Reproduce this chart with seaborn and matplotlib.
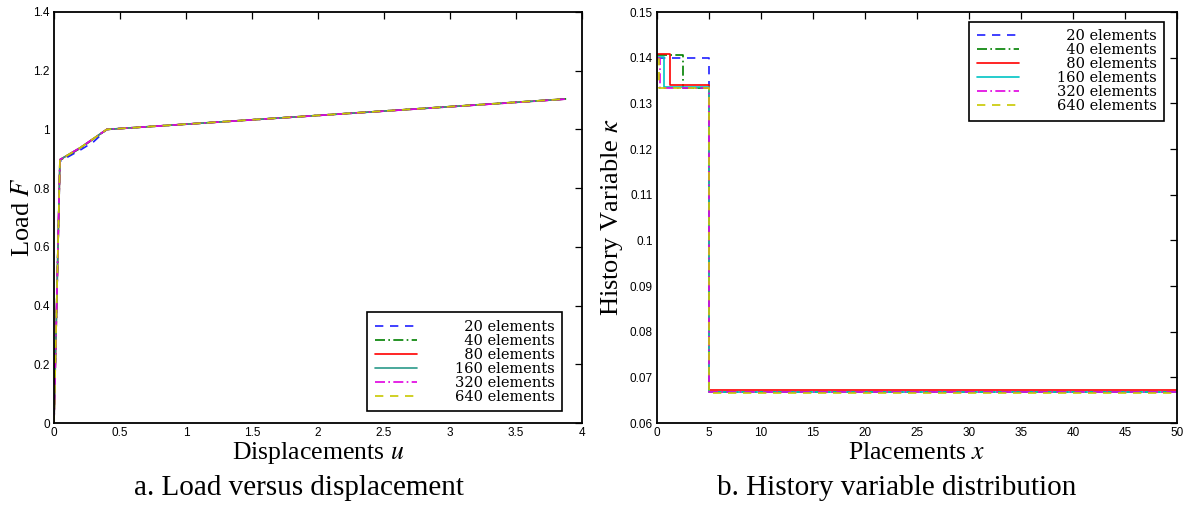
import numpy as np
import pandas as pd
import matplotlib
matplotlib.use("Agg")
import matplotlib.pyplot as plt
from matplotlib.ticker import FuncFormatter
import seaborn as sns

# ---- mesh labels ----
meshes = ["20 elements", "40 elements", "80 elements",
          "160 elements", "320 elements", "640 elements"]

# ---- load versus displacement (per mesh) ----
u_20 = [0.0, 0.045, 0.12, 0.20, 0.30, 0.40, 3.85]
F_20 = [0.0, 0.891, 0.910, 0.930, 0.958, 1.000, 1.103]
u_40 = [0.0, 0.045, 0.20, 0.40, 3.88]
F_40 = [0.0, 0.895, 0.936, 1.000, 1.104]
u_80 = [0.0, 0.045, 0.20, 0.40, 3.86]
F_80 = [0.0, 0.897, 0.938, 1.000, 1.103]
u_160 = [0.0, 0.045, 0.20, 0.40, 3.86]
F_160 = [0.0, 0.897, 0.938, 1.000, 1.103]
u_320 = [0.0, 0.045, 0.20, 0.40, 3.87]
F_320 = [0.0, 0.897, 0.938, 1.000, 1.103]
u_640 = [0.0, 0.045, 0.20, 0.40, 3.88]
F_640 = [0.0, 0.897, 0.938, 1.000, 1.104]

# ---- history variable distribution (piecewise constant per mesh) ----
x_20 = [0.0, 5.0, 50.0]
k_20 = [0.1400, 0.0667, 0.0667]
x_40 = [0.0, 2.5, 5.0, 50.0]
k_40 = [0.1405, 0.1334, 0.0667, 0.0667]
x_80 = [0.0, 1.25, 5.0, 50.0]
k_80 = [0.1407, 0.1341, 0.0672, 0.0672]
x_160 = [0.0, 0.625, 5.0, 50.0]
k_160 = [0.1402, 0.1335, 0.0667, 0.0667]
x_320 = [0.0, 0.3125, 5.0, 50.0]
k_320 = [0.1400, 0.1334, 0.0667, 0.0667]
x_640 = [0.0, 0.156, 5.0, 50.0]
k_640 = [0.1398, 0.1334, 0.0666, 0.0666]

load_curves = [(u_20, F_20), (u_40, F_40), (u_80, F_80),
               (u_160, F_160), (u_320, F_320), (u_640, F_640)]
kappa_curves = [(x_20, k_20), (x_40, k_40), (x_80, k_80),
                (x_160, k_160), (x_320, k_320), (x_640, k_640)]

sns.set_theme(style="white")
plt.rcParams["font.family"] = ["Liberation Sans", "DejaVu Sans"]
plt.rcParams["mathtext.fontset"] = "stix"
plt.rcParams["text.color"] = "black"
plt.rcParams["axes.labelcolor"] = "black"

colors_a = ["#2020ff", "#008000", "#ff0000", "#2a9a8a", "#e000e0", "#c8c800"]
colors_b = ["#2020ff", "#008000", "#ff0000", "#00c4c4", "#e000e0", "#c8c800"]
styles = [(0, (5, 4)), (0, (6, 2, 1, 2)), "-", "-", (0, (6, 2, 1, 2)), (0, (5, 4))]

fig = plt.figure(figsize=(11.88, 5.07), dpi=100)
W, H = 1188, 507
ax1 = fig.add_axes([54 / W, (H - 423) / H, (582 - 54) / W, (423 - 12) / H])
ax2 = fig.add_axes([657 / W, (H - 423) / H, (1177 - 657) / W, (423 - 12) / H])

for (u, F), lab, c, ls in zip(load_curves, meshes, colors_a, styles):
    df = pd.DataFrame({"u": u, "F": F})
    sns.lineplot(data=df, x="u", y="F", ax=ax1, color=c, linestyle=ls,
                 linewidth=1.2, label=lab, estimator=None, sort=False)

for (x, k), lab, c, ls in zip(kappa_curves, meshes, colors_b, styles):
    df = pd.DataFrame({"x": x, "k": k})
    sns.lineplot(data=df, x="x", y="k", ax=ax2, color=c, linestyle=ls,
                 linewidth=1.2, label=lab, estimator=None, sort=False,
                 drawstyle="steps-post")

ax1.set_xlim(0, 4)
ax1.set_ylim(0, 1.4)
ax1.set_xticks(np.arange(0, 4.01, 0.5))
ax1.set_yticks(np.arange(0, 1.41, 0.2))
ax2.set_xlim(0, 50)
ax2.set_ylim(0.06, 0.15)
ax2.set_xticks(np.arange(0, 51, 5))
ax2.set_yticks(np.arange(0.06, 0.1501, 0.01))

g_fmt = FuncFormatter(lambda v, p: f"{round(v, 4):g}")
serif = ["Liberation Serif", "DejaVu Serif"]
for ax in (ax1, ax2):
    ax.xaxis.set_major_formatter(g_fmt)
    ax.yaxis.set_major_formatter(g_fmt)
    ax.tick_params(direction="in", length=5, width=0.9, top=True, right=True,
                   labelsize=8.5, colors="black", pad=3)
    for s in ax.spines.values():
        s.set_visible(True)
        s.set_color("black")
        s.set_linewidth(1.3)
    ax.grid(False)

ax1.set_xlabel("Displacements $u$", fontsize=18.5, family=serif)
ax1.set_ylabel("Load $F$", fontsize=19, family=serif)
ax2.set_xlabel("Placements $x$", fontsize=18.5, family=serif)
ax2.set_ylabel("History Variable $\\kappa$", fontsize=19, family=serif)
ax1.xaxis.set_label_coords(0.5, (423 - 453) / 411)
ax2.xaxis.set_label_coords(0.5, (423 - 453) / 411)
ax1.yaxis.set_label_coords((23 - 54) / 528, 0.5)
ax2.yaxis.set_label_coords((612 - 657) / 520, 0.5)
for lab in (ax1.xaxis.label, ax2.xaxis.label, ax1.yaxis.label, ax2.yaxis.label):
    lab.set_va("center")

leg_kw = dict(prop={"family": "DejaVu Serif", "size": 10.5}, frameon=True,
              fancybox=False, edgecolor="black", framealpha=1, labelspacing=0.0,
              handlelength=2.9, handletextpad=2.6, borderpad=0.5,
              borderaxespad=0.0)

anchors = {ax1: ("lower right", ((562 - 54) / 528, (423 - 411) / 411)),
           ax2: ("upper right", ((1164 - 657) / 520, (423 - 22) / 411))}
for ax, (loc, anchor) in anchors.items():
    handles, labels = ax.get_legend_handles_labels()
    pad_labels = [("\u2007" + l) if len(l.split()[0]) == 2 else l for l in labels]
    leg = ax.legend(handles, pad_labels, loc=loc, bbox_to_anchor=anchor, **leg_kw)
    leg.get_frame().set_linewidth(1.2)

fig.text(299 / W, 1 - 488 / H, "a. Load versus displacement",
         ha="center", va="center", fontsize=21, family=serif)
fig.text(897 / W, 1 - 488 / H, "b. History variable distribution",
         ha="center", va="center", fontsize=21, family=serif)

fig.savefig("out.png", dpi=100)
